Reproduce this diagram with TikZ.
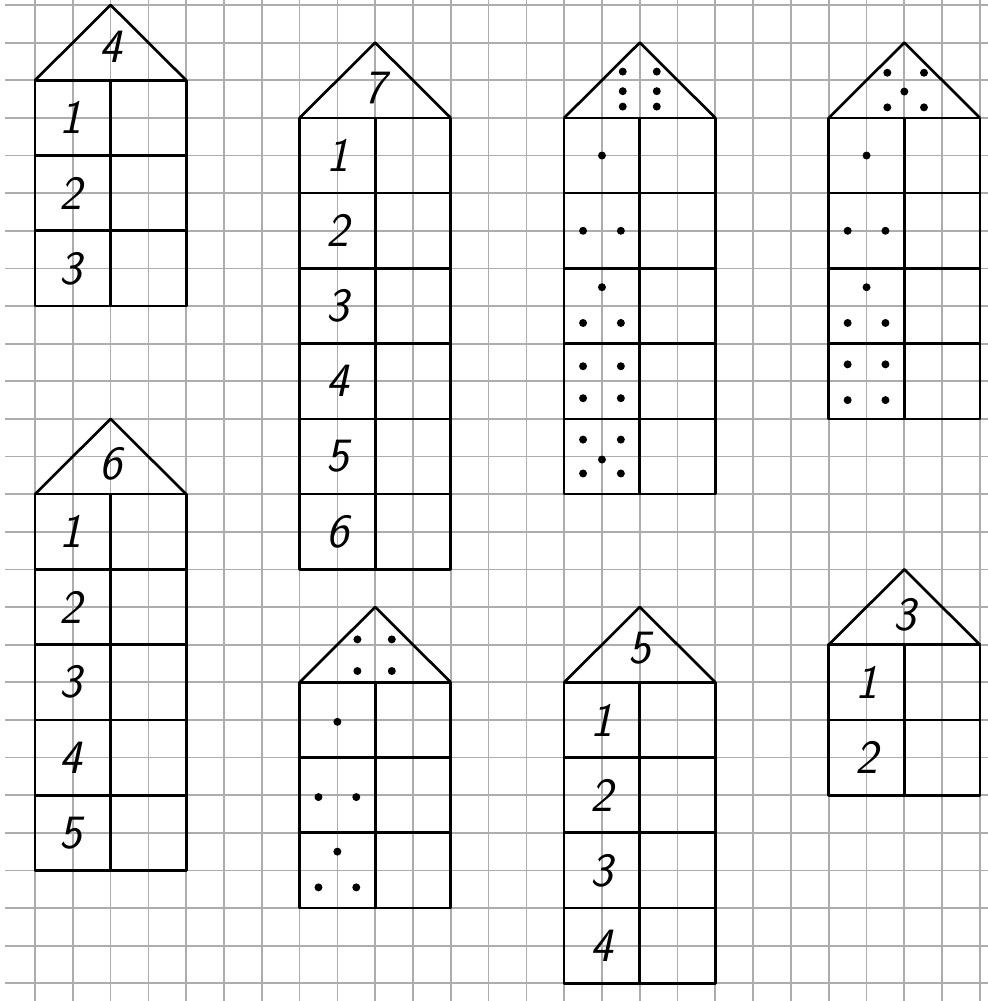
\documentclass[tikz,border=0pt]{standalone}
\usepackage{tikz}

\begin{document}
\begin{tikzpicture}[x=1cm, y=-0.9955cm]
\tikzstyle{paper}=[line width=1.3pt, draw=black!32]
\tikzstyle{wall}=[line width=2pt, draw=black, line join=round]
\tikzstyle{digit}=[inner sep=0pt, font=\fontsize{36}{36}\selectfont\sffamily\slshape]
\tikzstyle{dot}=[fill=black]
\useasboundingbox (-0.926,-0.133) rectangle (25.21,26.47);
\fill[white] (-0.926,-0.133) rectangle (25.21,26.47);
% squared paper
\foreach \i in {0,...,25} \draw[paper] (\i,-0.133) -- (\i,26.47);
\foreach \j in {0,...,26} \draw[paper] (-0.79,\j) -- (25.21,\j);

% house 4
\draw[wall] (0,2) -- (2,0) -- (4,2);
\draw[wall] (0,2) rectangle (4,8);
\draw[wall] (2,2) -- (2,8) (0,4) -- (4,4) (0,6) -- (4,6);
\node[digit] (roofFour) at (2,1.1) {4};
\node[digit] (fourA) at (0.95,3) {1};
\node[digit] (fourB) at (0.95,5) {2};
\node[digit] (fourC) at (0.95,7) {3};

% house 7
\draw[wall] (7,3) -- (9,1) -- (11,3);
\draw[wall] (7,3) rectangle (11,15);
\draw[wall] (9,3) -- (9,15) (7,5) -- (11,5) (7,7) -- (11,7) (7,9) -- (11,9) (7,11) -- (11,11) (7,13) -- (11,13);
\node[digit] (roofSeven) at (9,2.2) {7};
\node[digit] (sevenA) at (8,4) {1};
\node[digit] (sevenB) at (8,6) {2};
\node[digit] (sevenC) at (8,8) {3};
\node[digit] (sevenD) at (8,10) {4};
\node[digit] (sevenE) at (8,12) {5};
\node[digit] (sevenF) at (8,14) {6};

% house of six dots
\draw[wall] (14,3) -- (16,1) -- (18,3);
\draw[wall] (14,3) rectangle (18,13);
\draw[wall] (16,3) -- (16,13) (14,5) -- (18,5) (14,7) -- (18,7) (14,9) -- (18,9) (14,11) -- (18,11);
\foreach \p in {(15.55,1.77),(16.45,1.77),(15.55,2.29),(16.45,2.29),(15.55,2.7),(16.45,2.7),
  (15,4),
  (14.5,6),(15.5,6),
  (15,7.5),(14.5,8.45),(15.5,8.45),
  (14.5,9.6),(15.5,9.6),(14.5,10.45),(15.5,10.45),
  (14.5,11.55),(15.5,11.55),(15,12.08),(14.5,12.45),(15.5,12.45)}
  \fill[dot] \p circle (3pt);

% house of five dots
\draw[wall] (21,3) -- (23,1) -- (25,3);
\draw[wall] (21,3) rectangle (25,11);
\draw[wall] (23,3) -- (23,11) (21,5) -- (25,5) (21,7) -- (25,7) (21,9) -- (25,9);
\foreach \p in {(22.55,1.8),(23.52,1.8),(23,2.3),(22.55,2.72),(23.52,2.72),
  (22,4),
  (21.5,6),(22.5,6),
  (22,7.5),(21.5,8.45),(22.5,8.45),
  (21.5,9.55),(22.5,9.55),(21.5,10.5),(22.5,10.5)}
  \fill[dot] \p circle (3pt);

% house 6
\draw[wall] (0,13) -- (2,11) -- (4,13);
\draw[wall] (0,13) rectangle (4,23);
\draw[wall] (2,13) -- (2,23) (0,15) -- (4,15) (0,17) -- (4,17) (0,19) -- (4,19) (0,21) -- (4,21);
\node[digit] (roofSix) at (2,12.2) {6};
\node[digit] (sixA) at (0.95,14) {1};
\node[digit] (sixB) at (0.95,16) {2};
\node[digit] (sixC) at (0.95,18) {3};
\node[digit] (sixD) at (0.95,20) {4};
\node[digit] (sixE) at (0.95,22) {5};

% house of four dots
\draw[wall] (7,18) -- (9,16) -- (11,18);
\draw[wall] (7,18) rectangle (11,24);
\draw[wall] (9,18) -- (9,24) (7,20) -- (11,20) (7,22) -- (11,22);
\foreach \p in {(8.53,16.86),(9.44,16.86),(8.53,17.7),(9.44,17.7),
  (8,19.05),
  (7.5,21.05),(8.5,21.05),
  (8,22.5),(7.5,23.45),(8.5,23.45)}
  \fill[dot] \p circle (3pt);

% house 5
\draw[wall] (14,18) -- (16,16) -- (18,18);
\draw[wall] (14,18) rectangle (18,26);
\draw[wall] (16,18) -- (16,26) (14,20) -- (18,20) (14,22) -- (18,22) (14,24) -- (18,24);
\node[digit] (roofFive) at (16,17.1) {5};
\node[digit] (fiveA) at (15,19) {1};
\node[digit] (fiveB) at (15,21) {2};
\node[digit] (fiveC) at (15,23) {3};
\node[digit] (fiveD) at (15,25) {4};

% house 3
\draw[wall] (21,17) -- (23,15) -- (25,17);
\draw[wall] (21,17) rectangle (25,21);
\draw[wall] (23,17) -- (23,21) (21,19) -- (25,19);
\node[digit] (roofThree) at (23,16.2) {3};
\node[digit] (threeA) at (22,18) {1};
\node[digit] (threeB) at (22,20) {2};
\end{tikzpicture}
\end{document}
